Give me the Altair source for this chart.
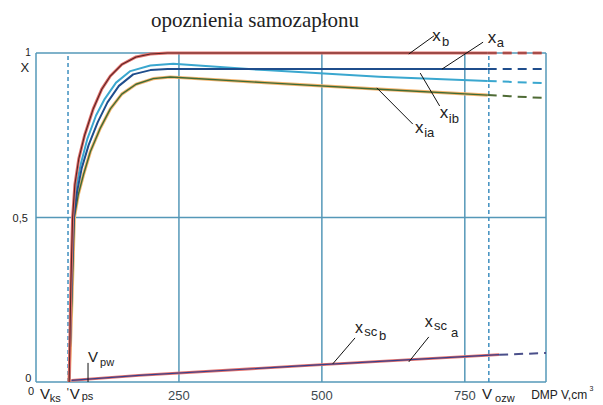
import altair as alt
import pandas as pd

# ---------------- data ----------------
V_b = [58, 61, 64, 68, 75, 85, 100, 115, 130, 150, 175, 200, 230, 790]
X_b = [0, 0.30, 0.50, 0.60, 0.68, 0.75, 0.83, 0.89, 0.93, 0.965, 0.988, 0.997, 1.0, 1.0]
V_ib = [58, 62, 65, 70, 78, 90, 105, 120, 140, 165, 200, 240, 400, 600, 790]
X_ib = [0, 0.30, 0.50, 0.59, 0.66, 0.74, 0.81, 0.86, 0.91, 0.945, 0.962, 0.967, 0.948, 0.928, 0.915]
V_a = [58, 62, 66, 72, 80, 92, 108, 125, 145, 170, 200, 230, 790]
X_a = [0, 0.28, 0.50, 0.58, 0.65, 0.72, 0.79, 0.85, 0.90, 0.935, 0.948, 0.951, 0.951]
V_ia = [58, 63, 67, 74, 83, 95, 112, 130, 150, 175, 205, 235, 400, 600, 790]
X_ia = [0, 0.26, 0.50, 0.57, 0.63, 0.70, 0.77, 0.83, 0.875, 0.905, 0.922, 0.927, 0.91, 0.89, 0.872]
V_ext = [790, 892]
X_b_ext = [1.0, 1.0]
X_a_ext = [0.951, 0.951]
X_ib_ext = [0.915, 0.908]
X_ia_ext = [0.872, 0.863]
V_sc = [62, 180, 462, 810]
X_sc = [0.005, 0.020, 0.049, 0.083]
V_sc_ext = [810, 892]
X_sc_ext = [0.083, 0.088]

V_grid = [0, 250, 500, 750, 892]
Y_grid = [0, 0.5, 1]
V_dashed = [56, 792]
V_ticks = [250, 500, 750]
tick_labels = ["250", "500", "750"]

XMAX = 892
x_scale = alt.Scale(domain=[0, XMAX], nice=False, zero=False)
y_scale = alt.Scale(domain=[0, 1], nice=False, zero=False)


def xenc(f="V"):
    return alt.X(f"{f}:Q", scale=x_scale, axis=None)


def yenc(f="X"):
    return alt.Y(f"{f}:Q", scale=y_scale, axis=None)


def line(vs, xs, color, width, dash=None):
    df = pd.DataFrame({"V": vs, "X": xs})
    kw = dict(color=color, strokeWidth=width, strokeCap="butt", strokeJoin="round")
    if dash:
        kw["strokeDash"] = dash
    return alt.Chart(df).mark_line(**kw).encode(x=xenc(), y=yenc())


GRID = "#5598b8"

vgrid = alt.Chart(pd.DataFrame({"V": V_grid, "y0": [0] * 5, "y1": [1] * 5})).mark_rule(
    color=GRID, strokeWidth=1.5).encode(x=xenc(), y=yenc("y0"), y2="y1")
hgrid = alt.Chart(pd.DataFrame({"X": Y_grid, "v0": [0] * 3, "v1": [XMAX] * 3})).mark_rule(
    color=GRID, strokeWidth=1.5).encode(y=yenc(), x=xenc("v0"), x2="v1")
vdash = alt.Chart(pd.DataFrame({"V": V_dashed, "y0": [0, 0], "y1": [1, 1]})).mark_rule(
    color="#3f8fbf", strokeWidth=1.5, strokeDash=[4, 3]).encode(x=xenc(), y=yenc("y0"), y2="y1")

curves = [
    line(V_ia, X_ia, "#f3b46e", 3.2),
    line(V_ia, X_ia, "#3f6b35", 1.4),
    line(V_ib, X_ib, "#3aa7cf", 2),
    line(V_a, X_a, "#1f4d8c", 2),
    line(V_b, X_b, "#e2706b", 3),
    line(V_b, X_b, "#5a2424", 1.1),
    line(V_ext, X_ia_ext, "#4f6b35", 2, [9, 6]),
    line(V_ext, X_ib_ext, "#3aa7cf", 2, [9, 6]),
    line(V_ext, X_a_ext, "#1f4d8c", 2, [9, 6]),
    line(V_ext, X_b_ext, "#e2706b", 3, [9, 6]),
    line(V_ext, X_b_ext, "#6a2a2a", 1, [9, 6]),
    line(V_sc, X_sc, "#e2706b", 2.8),
    line(V_sc, X_sc, "#3a3f8a", 1.2),
    line(V_sc_ext, X_sc_ext, "#4a4f8a", 2, [9, 6]),
]

# leader lines for curve labels (data units)
leaders = pd.DataFrame({
    "V": [652, 710, 672, 596, 519, 652, 91],
    "X": [0.997, 0.951, 0.939, 0.894, 0.055, 0.061, 0.0],
    "V2": [696, 782, 706, 659, 558, 687, 91],
    "X2": [1.052, 1.033, 0.839, 0.784, 0.134, 0.137, 0.058],
})
lead = alt.Chart(leaders).mark_rule(color="#111", strokeWidth=1).encode(
    x=xenc(), y=yenc(), x2="V2", y2="X2")

# left-aligned text labels (data units)
labels = pd.DataFrame([
    ("1", -19, 0.991, 10),
    ("X", -27, 0.942, 13),
    ("0,5", -41, 0.486, 11),
    ("0", -19, 0.0, 11),
    ("0", -14, -0.040, 11),
    ("V", 7, -0.052, 15), ("ks", 24, -0.061, 11),
    ("'", 54, -0.044, 11),
    ("V", 59, -0.052, 15), ("ps", 80, -0.055, 11),
    ("V", 91, 0.061, 15), ("pw", 112, 0.050, 11),
    ("V", 780, -0.052, 15), ("ozw", 803, -0.061, 11),
    ("DMP V,cm", 866, -0.052, 12), ("3", 968, -0.027, 7),
    ("x", 693, 1.036, 17), ("b", 710, 1.022, 13),
    ("x", 790, 1.030, 17), ("a", 806, 1.018, 13),
    ("x", 706, 0.802, 17), ("ib", 722, 0.787, 13),
    ("x", 663, 0.757, 17), ("ia", 679, 0.745, 13),
    ("x", 558, 0.149, 16), ("sc", 574, 0.140, 13), ("b", 600, 0.128, 13),
    ("x", 680, 0.167, 16), ("sc", 696, 0.158, 13), ("a", 726, 0.137, 13),
], columns=["t", "V", "X", "s"])
txt = alt.Chart(labels).mark_text(align="left", baseline="alphabetic", font="Liberation Sans",
                                  color="#222").encode(
    x=xenc(), y=yenc(), text="t:N", size=alt.Size("s:Q", scale=None))

ticks = pd.DataFrame({"V": V_ticks, "t": tick_labels, "X": [-0.055] * 3})
ticktxt = alt.Chart(ticks).mark_text(align="center", baseline="alphabetic", font="Liberation Sans",
                                     fontSize=13, color="#3d4a50").encode(x=xenc(), y=yenc(), text="t:N")

title = alt.Chart(pd.DataFrame({"V": [383], "X": [1.079], "t": ["opoznienia samozapłonu"]})).mark_text(
    align="center", baseline="alphabetic", font="Liberation Serif", fontSize=21, color="#222"
).encode(x=xenc(), y=yenc(), text="t:N")

chart = alt.layer(vgrid, hgrid, vdash, *curves, lead, txt, ticktxt, title).properties(
    width=510, height=329,
    padding={"left": 28, "top": 45, "right": 49, "bottom": 23},
    autosize="none",
).configure_view(stroke=None)

chart.save("out.html", embed_options={"renderer": "svg", "actions": False})
